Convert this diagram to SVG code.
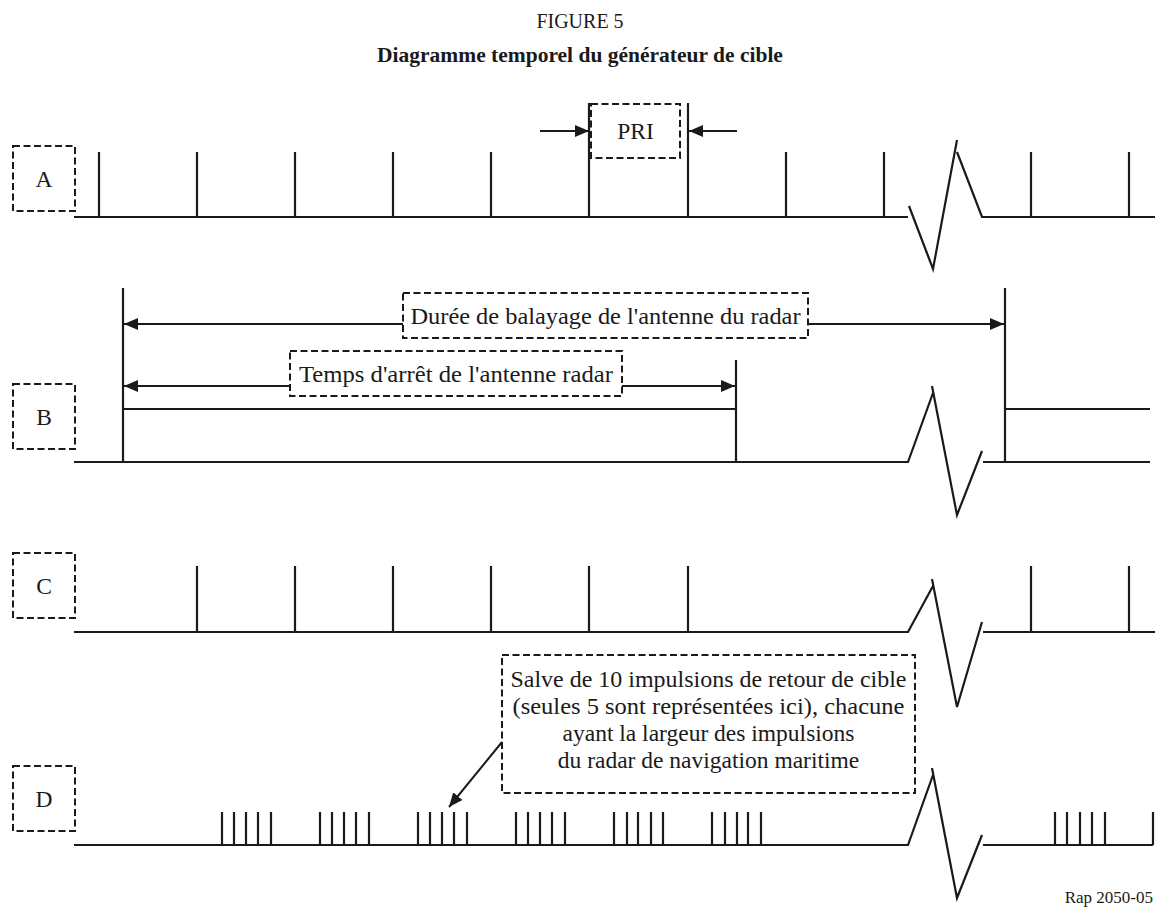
<svg xmlns="http://www.w3.org/2000/svg" width="1160" height="913" viewBox="0 0 1160 913">
<style>
text{font-family:"Liberation Serif","Times New Roman",serif;fill:#1a1a1a}
.lbl{font-size:23.5px;text-anchor:middle}
.box{fill:none;stroke:#1a1a1a;stroke-width:2;stroke-dasharray:7,3.5}
.w{fill:none;stroke:#1a1a1a;stroke-width:2.2;stroke-linejoin:miter}
.t{stroke:#1a1a1a;stroke-width:2.2}
.ar{stroke:#1a1a1a;stroke-width:2;fill:none;marker-end:url(#ah)}
</style>
<defs>
<marker id="ah" viewBox="0 0 14 12" refX="14" refY="6" markerWidth="14" markerHeight="12" markerUnits="userSpaceOnUse" orient="auto"><path d="M0,0 L14,6 L0,12 z" fill="#1a1a1a"/></marker>
</defs>
<rect width="1160" height="913" fill="#fff"/>
<g id="title">
<text x="580" y="28" style="font-size:20px;text-anchor:middle">FIGURE 5</text>
<text x="580" y="62" style="font-size:21.5px;font-weight:bold;text-anchor:middle">Diagramme temporel du générateur de cible</text>
</g>
<g id="label-A"><rect class="box" x="13" y="146" width="62" height="65"/><text class="lbl" x="44" y="187">A</text></g>
<g id="label-B"><rect class="box" x="13" y="384" width="62" height="65"/><text class="lbl" x="44" y="425">B</text></g>
<g id="label-C"><rect class="box" x="13" y="553" width="62" height="65"/><text class="lbl" x="44" y="594">C</text></g>
<g id="label-D"><rect class="box" x="13" y="766" width="62" height="65"/><text class="lbl" x="44" y="807">D</text></g>
<g id="signal-A">
<path class="w" d="M74,217 H908 M909,206 L933,269 L957,140 M957,152 L982,217 H1155"/>
<path class="t" d="M99,152V217 M197,152V217 M295,152V217 M393,152V217 M491,152V217 M589,103V217 M688,103V217 M786,152V217 M884,152V217 M1031,152V217 M1129,152V217"/>
</g>
<g id="signal-B">
<path class="w" d="M74,462 H908 L933,393 M932,386 L957,515 L982,451 M983,462 H1150"/>
<path class="w" d="M123,288 V462 M123,409 H736 M736,360 V462 M1005,288 V462 M1005,409 H1150"/>
</g>
<g id="signal-C">
<path class="w" d="M74,632 H908 L933,586 M932,579 L957,707 L982,622 M983,632 H1155"/>
<path class="t" d="M197,566V632 M295,566V632 M393,566V632 M491,566V632 M589,566V632 M688,566V632 M1031,566V632 M1129,566V632"/>
</g>
<g id="signal-D">
<path class="w" d="M74,845 H908 L933,775 M932,768 L957,898 L982,835 M983,845 H1153"/>
<path class="t" d="M222,812V845 M234,812V845 M246,812V845 M258,812V845 M271,812V845
M320,812V845 M332,812V845 M344,812V845 M356,812V845 M369,812V845
M418,812V845 M430,812V845 M442,812V845 M454,812V845 M467,812V845
M516,812V845 M528,812V845 M540,812V845 M552,812V845 M565,812V845
M614,812V845 M627,812V845 M638,812V845 M651,812V845 M663,812V845
M712,812V845 M725,812V845 M737,812V845 M748,812V845 M761,812V845
M1055,812V845 M1067,812V845 M1080,812V845 M1092,812V845 M1105,812V845 M1153,812V845"/>
</g>
<g id="box-PRI"><rect class="box" x="591" y="104" width="89" height="54"/><text class="lbl" x="635.5" y="139">PRI</text></g>
<g id="box-duree"><rect class="box" x="403" y="293" width="405" height="45"/><text class="lbl" x="605.5" y="324" textLength="390" lengthAdjust="spacingAndGlyphs">Durée de balayage de l'antenne du radar</text></g>
<g id="box-temps"><rect class="box" x="290" y="351" width="332" height="45"/><text class="lbl" x="456" y="382" textLength="314" lengthAdjust="spacingAndGlyphs">Temps d'arrêt de l'antenne radar</text></g>
<g id="box-salve"><rect class="box" x="502" y="655" width="413" height="138"/>
<text class="lbl" x="708.5" y="687" textLength="396" lengthAdjust="spacingAndGlyphs">Salve de 10 impulsions de retour de cible</text>
<text class="lbl" x="708.5" y="714" textLength="392" lengthAdjust="spacingAndGlyphs">(seules 5 sont représentées ici), chacune</text>
<text class="lbl" x="708.5" y="741">ayant la largeur des impulsions</text>
<text class="lbl" x="708.5" y="768">du radar de navigation maritime</text>
</g>
<g id="connectors">
<line class="ar" x1="540" y1="131" x2="589" y2="131"/>
<line class="ar" x1="737" y1="131" x2="689" y2="131"/>
<line class="ar" x1="403" y1="324" x2="124" y2="324"/>
<line class="ar" x1="808" y1="324" x2="1004" y2="324"/>
<line class="ar" x1="290" y1="386" x2="124" y2="386"/>
<line class="ar" x1="622" y1="386" x2="735" y2="386"/>
<line class="ar" x1="502" y1="742" x2="449" y2="807"/>
</g>
<text x="1153" y="903" style="font-size:17px;text-anchor:end">Rap 2050-05</text>
</svg>
